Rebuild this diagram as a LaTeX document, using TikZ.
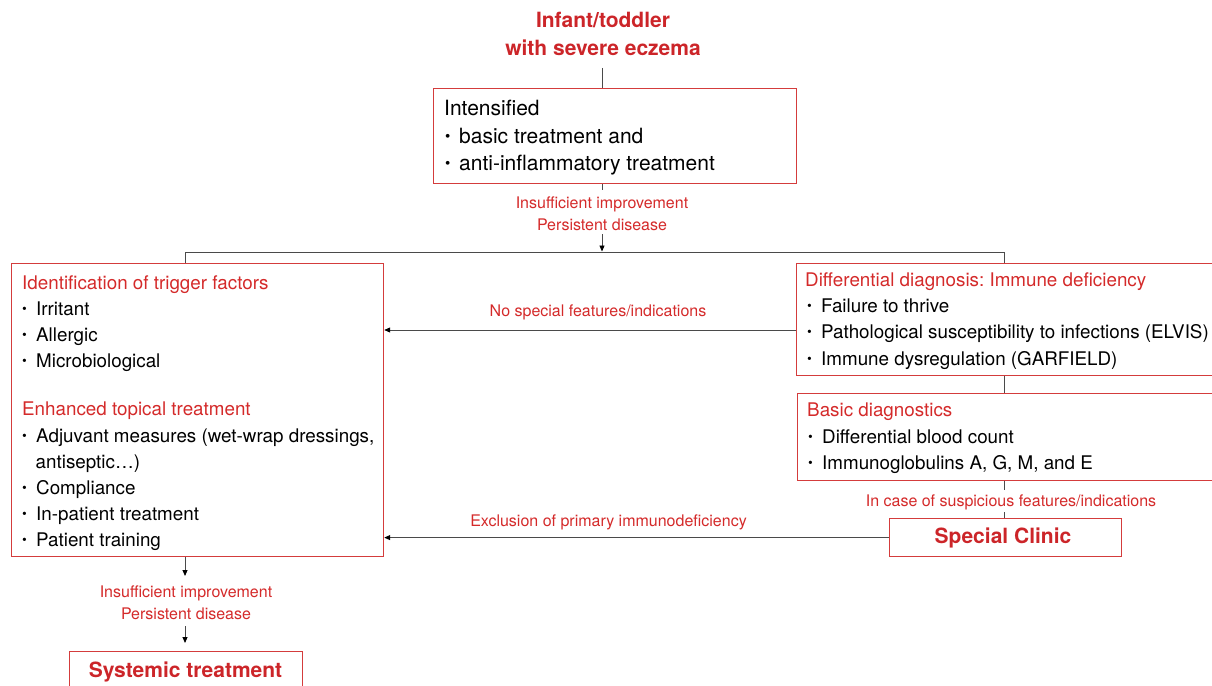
\documentclass[tikz,border=0pt]{standalone}
\usepackage{fontspec}
\usepackage{graphicx}
\setmainfont{TeX Gyre Heros}
\usetikzlibrary{arrows.meta}
\definecolor{myred}{HTML}{D42A2A}
\definecolor{titlered}{HTML}{CC2529}
\definecolor{boxred}{HTML}{D43C3C}
\definecolor{lin}{HTML}{4A4A4A}
\frenchspacing
\newcommand\fmain{\fontsize{21}{25}\selectfont}
\newcommand\fside{\fontsize{18.8}{22}\selectfont}
\newcommand\flab{\fontsize{16}{19}\selectfont}
\newcommand\fbold{\fontsize{21}{25}\selectfont\bfseries}
\newcommand\bul[1]{\makebox[14pt][l]{\raisebox{0.1em}{\scalebox{0.72}{\textbullet}}}#1}
\begin{document}
\begin{tikzpicture}[x=1pt,y=-1pt,
  box/.style={draw=boxred, line width=1.2pt, anchor=north west, inner sep=0pt},
  txt/.style={anchor=base west, inner sep=0pt},
  main/.style={txt, font=\fmain, text=black},
  side/.style={txt, font=\fside, text=black},
  sidehead/.style={txt, font=\fside, text=myred},
  lab/.style={anchor=base, inner sep=0pt, font=\flab, text=myred},
  bigred/.style={anchor=base, inner sep=0pt, font=\fbold, text=titlered},
  ln/.style={draw=lin, line width=0.9pt},
  arr/.style={ln, arrows={-{Triangle[length=6pt,width=5pt,color=black]}}}
]
\useasboundingbox (0,0) rectangle (1212,685);

% title
\node[bigred] (t1) at (603,28) {Infant/toddler};
\node[bigred] (t2) at (603,56) {with severe eczema};

% box 1
\node[box, minimum width=363, minimum height=95.5] (b1) at (433,87.5) {};
\node[main] (b1a) at (444,115) {Intensified};
\node[main] (b1b) at (445,143.3) {\bul{basic treatment and}};
\node[main] (b1c) at (445,170.7) {\bul{anti-inflammatory treatment}};

\node[lab] (la1) at (602,208) {Insufficient improvement};
\node[lab] (la2) at (602,230) {Persistent disease};

% left box
\node[box, minimum width=372, minimum height=293.5] (L) at (11,262.5) {};
\node[sidehead] (L0) at (22,289) {Identification of trigger factors};
\node[side] (L1) at (22,315.7) {\bul{Irritant}};
\node[side] (L2) at (22,341.7) {\bul{Allergic}};
\node[side] (L3) at (22,367.7) {\bul{Microbiological}};
\node[sidehead] (L4) at (22,415.7) {Enhanced topical treatment};
\node[side] (L5) at (22,442.3) {\bul{Adjuvant measures (wet-wrap dressings,}};
\node[side] (L6) at (35.5,468) {antiseptic…)};
\node[side] (L7) at (22,494) {\bul{Compliance}};
\node[side] (L8) at (22,520.7) {\bul{In-patient treatment}};
\node[side] (L9) at (22,546.7) {\bul{Patient training}};

% right box 1
\node[box, minimum width=430, minimum height=112] (R1) at (796,262.5) {};
\node[sidehead] (R10) at (805,286.7) {Differential diagnosis: Immune deficiency};
\node[side] (R11) at (807,312.7) {\bul{Failure to thrive}};
\node[side] (R12) at (807,338.7) {\bul{Pathological susceptibility to infections (ELVIS)}};
\node[side] (R13) at (807,365) {\bul{Immune dysregulation (GARFIELD)}};

% right box 2
\node[box, minimum width=430, minimum height=87] (R2) at (797,393) {};
\node[sidehead] (R20) at (807,416.7) {Basic diagnostics};
\node[side] (R21) at (808,443.3) {\bul{Differential blood count}};
\node[side] (R22) at (808,469.3) {\bul{Immunoglobulins A, G, M, and E}};

\node[lab] (la3) at (1011,506.7) {In case of suspicious features/indications};

% special clinic
\node[box, minimum width=232, minimum height=38] (SC) at (889,518) {};
\node[bigred] (SCt) at (1003,543.3) {Special Clinic};

\node[lab] (la4) at (598,316) {No special features/indications};
\node[lab] (la5) at (608.5,526.7) {Exclusion of primary immunodeficiency};

\node[lab] (la6) at (186,597) {Insufficient improvement};
\node[lab] (la7) at (186,619.3) {Persistent disease};

% systemic
\node[box, minimum width=233, minimum height=60] (ST) at (69,651) {};
\node[bigred] (STt) at (185.5,677) {Systemic treatment};

% connectors
\coordinate (c0) at (602,68);
\draw[ln] (c0) -- (c0 |- b1.north);
\coordinate (c1) at (602,190);
\draw[ln] (c1 |- b1.south) -- (c1);
\coordinate (c2) at (602,234);
\coordinate (c3) at (602,251.5);
\draw[arr] (c2) -- (c3);
\coordinate (sl) at (185,252.3);
\coordinate (sr) at (1004,252.3);
\draw[ln] (sl |- L.north) -- (sl) -- (sr) -- (sr |- R1.north);
\draw[ln] (sr |- R1.south) -- (sr |- R2.north);
\coordinate (c4) at (1004,490);
\coordinate (c5) at (1004,512);
\draw[ln] (sr |- R2.south) -- (c4);
\draw[ln] (c5) -- (c5 |- SC.north);
\coordinate (ya) at (0,330);
\draw[arr] (ya -| R1.west) -- (ya -| L.east);
\draw[arr] (SC.west) -- (SC.west -| L.east);
\coordinate (c6) at (185,576);
\draw[arr] (sl |- L.south) -- (c6);
\coordinate (c7) at (185,626);
\coordinate (c8) at (185,643);
\draw[arr] (c7) -- (c8);
\end{tikzpicture}
\end{document}
